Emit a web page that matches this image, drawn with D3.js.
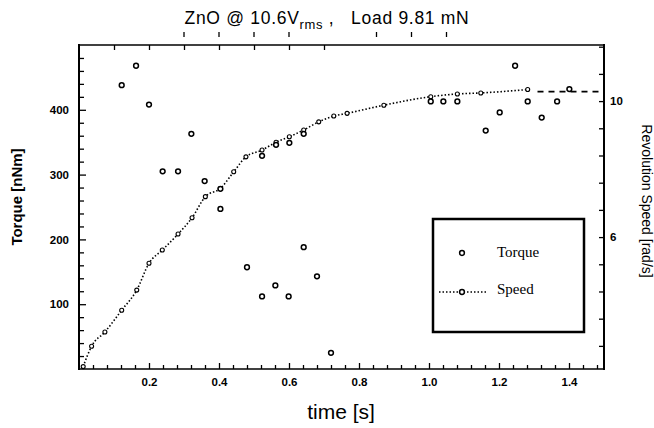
<!DOCTYPE html>
<html>
<head>
<meta charset="utf-8">
<script src="https://cdn.jsdelivr.net/npm/d3@7"></script>
<style>
  body { margin: 0; background: #fff; }
  svg { display: block; }
  .tick text { font-family: "Liberation Sans Narrow", "Liberation Sans", Arial, sans-serif; font-weight: bold; font-size: 11.5px; fill: #000; }
  .tick line { stroke: #000; stroke-width: 1.3; }
</style>
</head>
<body>
<svg width="654" height="428"></svg>
<script>
// time [s] and torque [nNm] of the scattered torque points
const torqueTime = [0.122, 0.163, 0.200, 0.239, 0.283, 0.321, 0.359, 0.404, 0.404, 0.480, 0.523, 0.523,
  0.561, 0.563, 0.599, 0.601, 0.642, 0.642, 0.680, 0.720, 1.005, 1.041, 1.081, 1.162, 1.202, 1.246,
  1.282, 1.322, 1.366, 1.401];
const torqueValue = [438, 468, 408, 305, 305, 363, 290, 278, 247, 157, 112, 329,
  129, 346, 112, 349, 363, 188, 143, 25, 413, 413, 413, 368, 396, 468,
  413, 388, 413, 432];

// revolution speed [rad/s] along the curve
const speedTime = [0.012, 0.036, 0.074, 0.122, 0.165, 0.200, 0.238, 0.283, 0.323, 0.361, 0.404, 0.442,
  0.477, 0.523, 0.563, 0.601, 0.642, 0.685, 0.728, 0.766, 0.871, 1.005, 1.081, 1.148, 1.282];
const speedValue = [2.19, 2.79, 3.21, 3.85, 4.44, 5.23, 5.62, 6.09, 6.57, 7.19, 7.43, 7.92,
  8.36, 8.56, 8.79, 8.95, 9.15, 9.39, 9.56, 9.64, 9.88, 10.13, 10.21, 10.24, 10.34];
// dashed plateau after the dotted curve
const plateauTime = [1.31, 1.40, 1.50];
const plateauValue = [10.28, 10.28, 10.28];

const xTickLabels = [0.2, 0.4, 0.6, 0.8, 1.0, 1.2, 1.4];
const leftTickLabels = [100, 200, 300, 400];
const rightTickLabels = [6, 10];
const topMarks = [0.3, 0.4, 0.5, 0.6, 0.85, 0.95, 1.05];

const svg = d3.select("svg");

const x = d3.scaleLinear().domain([0, 1.5]).range([79, 604]);
const yL = d3.scaleLinear().domain([0, 500]).range([369, 45]);
const yR = d3.scaleLinear().domain([2.12, 11.65]).range([369, 45]);

// minor ticks
const xMinor = d3.range(0.04, 1.5, 0.04).filter((v) => Math.abs(v / 0.2 - Math.round(v / 0.2)) > 0.01);
const yMinor = d3.range(20, 500, 20).filter((v) => v % 100 !== 0);
const rMinor = d3.range(2.8, 11.65, 0.8);

function clean(g) {
  g.select(".domain").remove();
}

svg.append("g").attr("transform", "translate(0,369)")
  .call(d3.axisBottom(x).tickValues(xMinor).tickSize(-4).tickFormat("")).call(clean);
svg.append("g").attr("transform", "translate(0,369)")
  .call(d3.axisBottom(x).tickValues(xTickLabels).tickSize(-6).tickPadding(9).tickFormat(d3.format(".1f")))
  .call(clean);

svg.append("g").attr("transform", "translate(0,45)")
  .call(d3.axisTop(x).tickValues(d3.range(0.1, 0.75, 0.1)).tickSize(-5).tickFormat("")).call(clean);

svg.append("g").attr("transform", "translate(79,0)")
  .call(d3.axisLeft(yL).tickValues(yMinor).tickSize(-5).tickFormat("")).call(clean);
svg.append("g").attr("transform", "translate(79,0)")
  .call(d3.axisLeft(yL).tickValues(leftTickLabels).tickSize(-7).tickPadding(10))
  .call(clean);

svg.append("g").attr("transform", "translate(604,0)")
  .call(d3.axisRight(yR).tickValues(rMinor).tickSize(-5).tickPadding(6)
    .tickFormat((d) => rightTickLabels.some((v) => Math.abs(v - d) < 0.01) ? d3.format("d")(Math.round(d)) : ""))
  .call(clean);

// frame
const frame = svg.append("g").attr("stroke", "#000").attr("fill", "none");
frame.append("line").attr("x1", 79).attr("x2", 604).attr("y1", 369).attr("y2", 369).attr("stroke-width", 1.5);
frame.append("line").attr("x1", 79).attr("x2", 604).attr("y1", 45).attr("y2", 45).attr("stroke-width", 1.5);
frame.append("line").attr("x1", 79).attr("x2", 79).attr("y1", 44).attr("y2", 370).attr("stroke-width", 2);
frame.append("line").attr("x1", 604).attr("x2", 604).attr("y1", 44).attr("y2", 370).attr("stroke-width", 2);

// stray tick marks above the frame
svg.append("g").selectAll("line").data(topMarks).join("line")
  .attr("x1", (d) => x(d)).attr("x2", (d) => x(d))
  .attr("y1", 32).attr("y2", 37)
  .attr("stroke", "#000").attr("stroke-width", 1.3);

// speed curve
const speed = speedTime.map((t, i) => [t, speedValue[i]]);
const plateau = plateauTime.map((t, i) => [t, plateauValue[i]]);
const line = d3.line().x((d) => x(d[0])).y((d) => yR(d[1])).curve(d3.curveMonotoneX);

svg.append("path").datum(speed).attr("d", line)
  .attr("fill", "none").attr("stroke", "#000").attr("stroke-width", 1.6)
  .attr("stroke-dasharray", "1.5,2");
svg.append("path").datum(plateau).attr("d", line)
  .attr("fill", "none").attr("stroke", "#000").attr("stroke-width", 1.6)
  .attr("stroke-dasharray", "6,5");
svg.append("g").selectAll("circle").data(speed).join("circle")
  .attr("cx", (d) => x(d[0])).attr("cy", (d) => yR(d[1])).attr("r", 2)
  .attr("fill", "#fff").attr("stroke", "#000").attr("stroke-width", 1.1);

// torque points
const torque = torqueTime.map((t, i) => [t, torqueValue[i]]);
svg.append("g").selectAll("circle").data(torque).join("circle")
  .attr("cx", (d) => x(d[0])).attr("cy", (d) => yL(d[1])).attr("r", 2.4)
  .attr("fill", "#fff").attr("stroke", "#000").attr("stroke-width", 1.5);

// legend
const legend = svg.append("g");
legend.append("rect").attr("x", 433).attr("y", 219).attr("width", 151).attr("height", 113)
  .attr("fill", "#fff").attr("stroke", "#000").attr("stroke-width", 2.5);
legend.append("circle").attr("cx", 462).attr("cy", 253).attr("r", 2.4)
  .attr("fill", "#fff").attr("stroke", "#000").attr("stroke-width", 1.5);
legend.append("line").attr("x1", 439).attr("x2", 487).attr("y1", 292).attr("y2", 292)
  .attr("stroke", "#000").attr("stroke-width", 1.6).attr("stroke-dasharray", "1.5,2");
legend.append("circle").attr("cx", 462).attr("cy", 292).attr("r", 2.4)
  .attr("fill", "#fff").attr("stroke", "#000").attr("stroke-width", 1.5);
legend.selectAll("text").data([["Torque", 257], ["Speed", 294]]).join("text")
  .attr("x", 497).attr("y", (d) => d[1])
  .attr("font-family", "Liberation Serif, Times New Roman, serif").attr("font-size", 15)
  .text((d) => d[0]);

// axis titles
svg.append("text").attr("transform", "translate(22,197) rotate(-90)")
  .attr("text-anchor", "middle").attr("font-family", "Liberation Sans, Arial, sans-serif")
  .attr("font-weight", "bold").attr("font-size", 15).text("Torque [nNm]");
svg.append("text").attr("transform", "translate(642,201) rotate(90)")
  .attr("text-anchor", "middle").attr("font-family", "Liberation Sans, Arial, sans-serif")
  .attr("font-size", 14).text("Revolution Speed [rad/s]");
svg.append("text").attr("x", 341).attr("y", 419)
  .attr("text-anchor", "middle").attr("font-family", "Liberation Sans, Arial, sans-serif")
  .attr("font-size", 21).text("time [s]");

// title
const title = svg.append("text").attr("x", 327).attr("y", 24).attr("text-anchor", "middle")
  .attr("font-family", "Liberation Sans, Arial, sans-serif").attr("font-size", 17.5)
  .attr("letter-spacing", 0.7).attr("xml:space", "preserve");
title.append("tspan").text("ZnO @ 10.6V");
title.append("tspan").attr("font-size", 13).attr("dy", 5).text("rms");
title.append("tspan").attr("dy", -5).text(" ,   Load 9.81 mN");
</script>
</body>
</html>
